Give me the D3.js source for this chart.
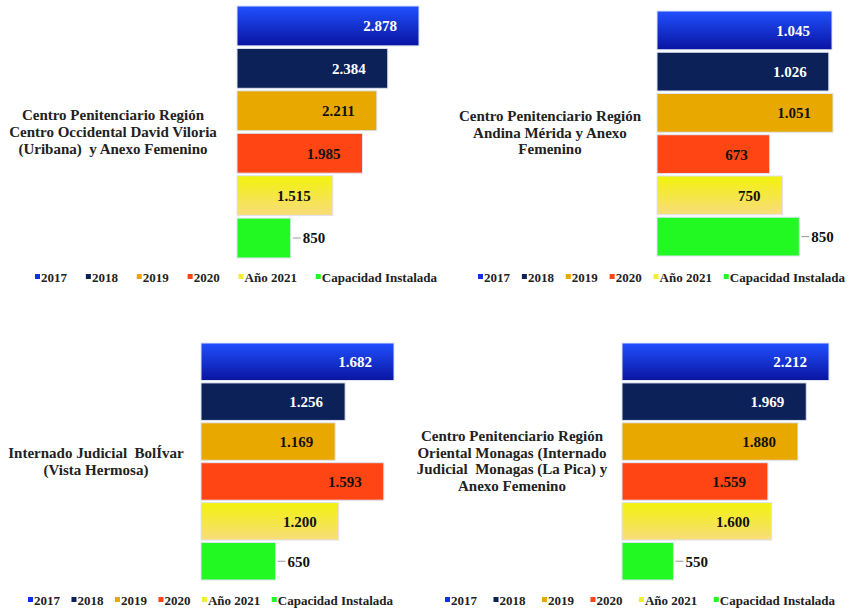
<!DOCTYPE html>
<html>
<head>
<meta charset="utf-8">
<script src="https://cdn.jsdelivr.net/npm/d3@7"></script>
<style>
  body { margin: 0; background: #fff; }
  svg { display: block; font-family: "Liberation Serif", "Times New Roman", serif; font-weight: bold; }
</style>
</head>
<body>
<svg id="chart" width="849" height="611"></svg>
<script>
// series names, same for the four charts
const categories = ['2017', '2018', '2019', '2020', 'Año 2021', 'Capacidad Instalada'];

// one list of values per centro
const uribana = [2878, 2384, 2211, 1985, 1515, 850];
const merida = [1045, 1026, 1051, 673, 750, 850];
const bolivar = [1682, 1256, 1169, 1593, 1200, 650];
const monagas = [2212, 1969, 1880, 1559, 1600, 550];

// titles, split the way they wrap in the picture
const titleUribana = ['Centro Penitenciario Región', 'Centro Occidental David Viloria', '(Uribana)  y Anexo Femenino'];
const titleMerida = ['Centro Penitenciario Región', 'Andina Mérida y Anexo', 'Femenino'];
const titleBolivar = ['Internado Judicial  BolÍvar', '(Vista Hermosa)'];
const titleMonagas = ['Centro Penitenciario Región', 'Oriental Monagas (Internado', 'Judicial  Monagas (La Pica) y', 'Anexo Femenino'];

const colors = ['url(#gBlue)', '#0b2157', '#e8a800', '#ff4513', 'url(#gYellow)', '#22f822'];
const legendColors = ['#1030e8', '#0b2157', '#e8a800', '#ff4513', '#f2ee30', '#22f822'];
const labelColors = ['#fff', '#fff', '#111', '#111', '#111', '#111'];

const svg = d3.select('#chart');

// gradients for 2017 and 2021 bars
const defs = svg.append('defs');
function gradient(id, top, bottom) {
  let g = defs.append('linearGradient').attr('id', id)
    .attr('x1', 0).attr('y1', 0).attr('x2', 0).attr('y2', 1);
  g.append('stop').attr('offset', '0%').attr('stop-color', top);
  g.append('stop').attr('offset', '100%').attr('stop-color', bottom);
}
gradient('gBlue', '#2050ff', '#0a14a0');
gradient('gYellow', '#f2f20c', '#f8dc7c');

// where each chart sits on the page
const panels = [
  { values: uribana, title: titleUribana, x0: 237, xMax: 419, top: 6, bottom: 258,
    tx: 113, ty: 120, lh: 17, lx: 35, lw: 402, ly: 277 },
  { values: merida, title: titleMerida, x0: 657, xMax: 833, top: 11, bottom: 256,
    tx: 550, ty: 121, lh: 16.5, lx: 478, lw: 367, ly: 277 },
  { values: bolivar, title: titleBolivar, x0: 201, xMax: 394, top: 343, bottom: 580,
    tx: 96, ty: 458, lh: 17, lx: 28, lw: 365, ly: 600 },
  { values: monagas, title: titleMonagas, x0: 622, xMax: 829, top: 343, bottom: 580,
    tx: 512, ty: 441, lh: 16.7, lx: 445, lw: 390, ly: 600 }
];

const fmt = d => d3.format(',')(d).replace(/,/g, '.');

panels.forEach(function(p) {
  let g = svg.append('g');
  let maxVal = d3.max(p.values);

  let x = d3.scaleLinear().domain([0, maxVal]).range([p.x0, p.xMax]);
  let y = d3.scaleBand().domain(categories).range([p.top, p.bottom]).paddingInner(0.06);

  // bars
  g.selectAll('rect.bar')
    .data(p.values)
    .enter().append('rect')
    .attr('class', 'bar')
    .attr('x', x(0))
    .attr('y', (d, i) => y(categories[i]))
    .attr('width', d => x(d) - x(0))
    .attr('height', y.bandwidth())
    .attr('fill', (d, i) => colors[i])
    .attr('stroke', '#dde4f4')
    .attr('stroke-width', 1);

  // value labels; last series sits outside with a small leader line
  let last = categories.length - 1;
  p.values.forEach(function(d, i) {
    let cy = y(categories[i]) + y.bandwidth() / 2;
    if (i === last) {
      g.append('line')
        .attr('x1', x(d) + 2).attr('x2', x(d) + 10)
        .attr('y1', cy).attr('y2', cy)
        .attr('stroke', '#999').attr('stroke-width', 1);
      g.append('text')
        .attr('x', x(d) + 12).attr('y', cy).attr('dy', '0.36em')
        .attr('font-size', 15).attr('fill', '#111')
        .text(fmt(d));
    } else {
      g.append('text')
        .attr('x', x(d) - 22).attr('y', cy).attr('dy', '0.36em')
        .attr('text-anchor', 'end')
        .attr('font-size', 15).attr('fill', labelColors[i])
        .text(fmt(d));
    }
  });

  // centro name
  let t = g.append('text')
    .attr('text-anchor', 'middle')
    .attr('font-size', 15)
    .attr('fill', '#222')
    .style('white-space', 'pre');
  p.title.forEach(function(line, k) {
    t.append('tspan').attr('x', p.tx).attr('y', p.ty + k * p.lh).text(line);
  });

  // legend, spread across the given width
  let items = g.append('g');
  let widths = [];
  categories.forEach(function(c, i) {
    let it = items.append('g');
    it.append('rect')
      .attr('x', 0).attr('y', p.ly - 3)
      .attr('width', 5).attr('height', 5)
      .attr('fill', legendColors[i]);
    let tx = it.append('text')
      .attr('x', 6).attr('y', p.ly).attr('dy', '0.35em')
      .attr('font-size', 13).attr('fill', '#222')
      .text(c);
    widths.push(6 + tx.node().getComputedTextLength());
  });
  let gap = (p.lw - d3.sum(widths)) / (categories.length - 1);
  let pos = p.lx;
  items.selectAll('g').each(function(d, i) {
    d3.select(this).attr('transform', 'translate(' + pos + ',0)');
    pos += widths[i] + gap;
  });
});
</script>
</body>
</html>
